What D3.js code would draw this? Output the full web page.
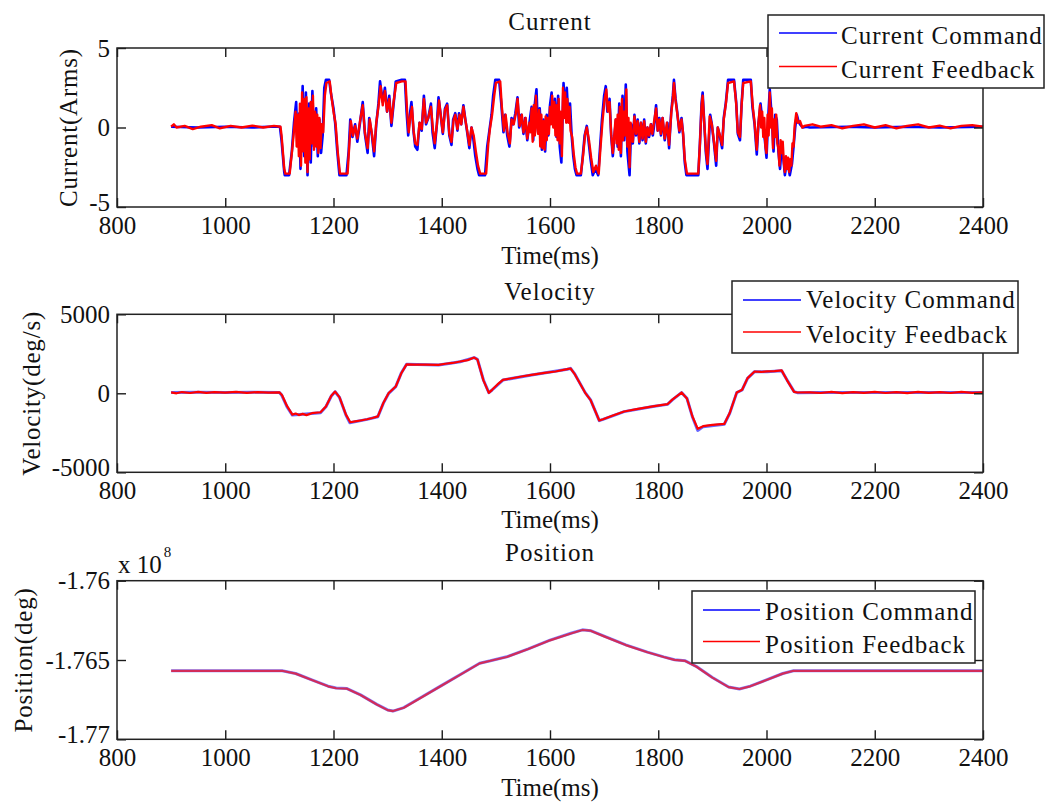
<!DOCTYPE html>
<html>
<head>
<meta charset="utf-8">
<script src="https://cdn.jsdelivr.net/npm/d3@7"></script>
<style>
  body { margin: 0; background: #fff; }
  text { font-family: "Liberation Serif", "Times New Roman", serif; fill: #111; }
</style>
</head>
<body>
<div id="chart"></div>
<script>
// ---- data (time in ms) ----
var timeTicks = [800, 1000, 1200, 1400, 1600, 1800, 2000, 2200, 2400];
var currentTicks = [-5, 0, 5];
var velocityTicks = [-5000, 0, 5000];
var positionTicks = [-1.77, -1.765, -1.76];   // x 10^8

var currentCommand = [
  [900,0.05],[950,0.0],[1000,0.05],[1050,0.0],[1083,0.05],[1101,0.05],[1104,-0.8],[1109,-2.8],[1110,-3.0],[1118,-3.0],
  [1123,-1.5],[1127,0.3],[1131,1.6],[1133,-0.5],[1137,0.9],[1139,-2.6],[1143,2.6],[1146,-1.8],[1149,2.2],[1152,-3.0],
  [1155,1.5],[1158,-2.2],[1161,2.3],[1164,-1.2],[1168,1.2],[1171,-1.8],[1174,0.5],[1177,-1.6],[1180,-0.5],[1183,2.5],
  [1186,3.0],[1192,3.0],[1195,2.2],[1200,1.2],[1203,0.3],[1207,-1.5],[1211,-3.0],[1224,-3.0],[1228,-1.5],[1231,0.5],
  [1235,-0.6],[1240,0.2],[1244,-0.9],[1249,0.3],[1254,1.6],[1258,-0.4],[1263,-1.6],[1266,0.6],[1271,-0.5],[1275,-1.8],
  [1279,0.2],[1283,1.5],[1286,2.9],[1291,1.6],[1295,2.5],[1299,1.0],[1303,2.0],[1307,0.1],[1312,1.8],[1315,2.9],
  [1326,3.0],[1332,3.0],[1335,1.0],[1338,-0.5],[1341,0.8],[1344,1.6],[1348,-0.3],[1351,-1.2],[1355,-1.4],[1359,0.3],
  [1363,-0.2],[1367,2.0],[1371,0.2],[1375,0.6],[1380,1.5],[1383,-0.3],[1387,-1.3],[1391,0.2],[1394,1.9],[1398,0.8],
  [1402,-0.4],[1406,1.2],[1410,1.5],[1414,-0.5],[1418,-1.1],[1421,0.5],[1425,0.9],[1429,-0.2],[1432,0.9],[1436,0.2],
  [1440,1.4],[1444,0.4],[1447,-0.3],[1451,-1.3],[1455,0.0],[1458,-0.6],[1462,-1.8],[1466,-2.6],[1469,-3.0],[1480,-3.0],
  [1484,-1.2],[1488,-0.2],[1492,0.8],[1495,2.0],[1499,3.0],[1506,3.0],[1510,1.5],[1514,-0.3],[1517,0.8],[1521,-0.5],
  [1525,-1.2],[1529,0.6],[1532,0.2],[1536,0.9],[1540,1.9],[1543,0.0],[1547,0.8],[1551,-0.4],[1554,0.6],[1558,-0.8],
  [1562,0.3],[1566,1.3],[1569,-0.8],[1572,1.5],[1575,2.4],[1578,-0.3],[1581,1.2],[1585,-1.4],[1588,0.5],[1591,-1.5],
  [1594,0.8],[1597,-0.5],[1600,1.4],[1603,2.2],[1606,0.2],[1609,1.8],[1612,-0.6],[1615,2.0],[1618,-1.2],[1621,-2.2],
  [1625,2.8],[1628,1.0],[1631,2.5],[1634,0.5],[1637,1.5],[1640,-0.5],[1643,-1.8],[1646,-2.6],[1649,-3.0],[1657,-3.0],
  [1660,-2.0],[1664,-0.5],[1668,0.1],[1671,-0.8],[1675,-2.0],[1679,-3.0],[1684,-2.6],[1689,-3.0],[1692,-1.5],[1696,0.5],
  [1700,2.0],[1703,2.6],[1706,1.0],[1710,1.8],[1713,-0.5],[1716,-1.8],[1719,-0.5],[1722,0.5],[1725,-1.2],[1728,1.5],
  [1731,-1.8],[1734,2.0],[1737,-0.8],[1740,2.7],[1743,-1.5],[1747,-3.0],[1750,0.2],[1753,-1.0],[1756,0.8],[1759,-0.5],
  [1762,0.5],[1765,-1.0],[1768,0.3],[1771,-0.8],[1774,0.5],[1777,-1.0],[1780,0.0],[1783,-0.6],[1787,0.2],[1790,-0.5],
  [1793,0.3],[1796,1.4],[1799,-0.2],[1802,0.6],[1805,-0.5],[1808,0.6],[1812,-0.8],[1817,0.3],[1820,-1.3],[1824,1.0],
  [1827,2.0],[1829,3.0],[1832,1.8],[1835,1.0],[1839,-0.3],[1843,0.6],[1846,-0.5],[1849,-2.2],[1852,-3.0],[1874,-3.0],
  [1877,-1.0],[1880,1.5],[1882,2.2],[1885,0.3],[1888,-1.6],[1891,-2.6],[1896,0.8],[1899,0.2],[1903,-1.0],[1907,-2.4],
  [1910,0.0],[1914,-0.6],[1918,-1.3],[1921,0.6],[1925,1.6],[1929,3.0],[1940,3.0],[1944,1.6],[1947,-0.4],[1951,-0.8],
  [1954,1.5],[1957,3.0],[1971,3.0],[1974,1.3],[1978,0.2],[1982,-1.7],[1985,0.2],[1989,1.5],[1993,0.2],[1997,-0.8],
  [2000,-1.9],[2003,0.5],[2006,2.4],[2010,0.5],[2013,-1.5],[2016,0.8],[2019,0.5],[2022,-1.5],[2025,-2.6],[2028,-1.2],
  [2031,-1.9],[2034,-3.0],[2037,-2.2],[2040,-2.4],[2043,-3.0],[2047,-2.3],[2050,-1.2],[2053,0.0],[2056,0.8],[2059,0.4],
  [2062,0.2],[2067,0.0],[2074,0.05],[2080,0.0],[2150,0.05],[2200,0.0],[2260,0.05],[2320,0.0],[2400,0.05]
];

var currentFeedback = [
  [900,0.05],[905,0.2],[910,0.0],[925,0.1],[940,-0.1],[955,0.05],[975,0.15],[990,-0.05],[1010,0.1],[1030,0.0],
  [1050,0.12],[1070,0.0],[1090,0.1],[1102,0.05],[1104,-0.5],[1109,-2.6],[1111,-2.9],[1119,-2.9],[1124,-1.3],[1128,0.2],
  [1130,1.0],[1132,-1.2],[1134,0.8],[1136,-1.8],[1138,1.5],[1140,-2.4],[1142,2.2],[1144,-1.5],[1146,1.8],[1148,-2.2],
  [1150,1.9],[1152,-2.8],[1154,1.2],[1156,-2.0],[1158,1.6],[1160,-1.0],[1162,2.0],[1164,-1.4],[1166,1.0],[1168,-1.2],
  [1170,0.8],[1172,-1.6],[1174,0.6],[1176,-1.3],[1178,0.2],[1181,-0.3],[1184,2.0],[1187,2.8],[1193,2.9],[1196,2.0],
  [1200,1.0],[1204,0.2],[1208,-1.6],[1212,-2.9],[1226,-2.9],[1229,-1.2],[1232,0.4],[1236,-0.5],[1240,0.1],[1244,-0.7],
  [1249,0.4],[1254,1.4],[1258,-0.3],[1263,-1.3],[1267,0.5],[1271,-0.4],[1275,-1.5],[1279,0.3],[1283,1.3],[1287,2.6],
  [1291,1.4],[1295,2.3],[1299,1.0],[1303,1.8],[1307,0.3],[1311,1.6],[1316,2.8],[1326,2.9],[1333,2.9],[1336,1.0],
  [1339,-0.3],[1342,0.7],[1345,1.3],[1348,-0.2],[1351,-1.0],[1355,-1.1],[1359,0.3],[1363,-0.1],[1367,1.8],[1371,0.3],
  [1375,0.6],[1380,1.3],[1384,-0.2],[1387,-1.0],[1391,0.2],[1395,1.7],[1398,0.8],[1402,-0.3],[1406,1.1],[1410,1.4],
  [1414,-0.4],[1418,-0.9],[1422,0.5],[1425,0.8],[1429,-0.1],[1433,0.8],[1436,0.2],[1440,1.3],[1444,0.4],[1447,-0.2],
  [1451,-1.1],[1455,0.0],[1459,-0.5],[1463,-1.5],[1467,-2.4],[1471,-2.9],[1482,-2.9],[1486,-1.0],[1489,-0.1],[1493,0.8],
  [1497,2.0],[1500,2.8],[1508,2.9],[1511,1.3],[1515,-0.2],[1518,0.8],[1522,-0.4],[1526,-1.0],[1529,0.5],[1533,0.2],
  [1537,0.9],[1540,1.8],[1544,0.1],[1548,0.8],[1551,-0.3],[1555,0.6],[1558,-0.7],[1562,0.3],[1564,-0.3],[1566,1.2],
  [1568,-0.9],[1570,1.4],[1572,-0.5],[1574,2.0],[1576,0.2],[1578,-0.4],[1580,1.1],[1582,-1.2],[1584,0.8],[1586,-1.3],
  [1588,0.4],[1590,-1.4],[1592,0.7],[1594,-0.8],[1596,0.6],[1598,-0.4],[1600,1.3],[1602,0.2],[1604,2.0],[1606,0.0],
  [1608,1.6],[1610,-0.5],[1612,1.4],[1614,-0.8],[1616,1.8],[1618,-1.0],[1620,1.0],[1622,-1.8],[1624,2.5],[1626,0.6],
  [1628,2.2],[1630,0.3],[1632,1.8],[1634,0.3],[1636,1.3],[1638,-0.2],[1641,-0.6],[1644,-1.7],[1647,-2.5],[1650,-2.9],
  [1657,-2.9],[1661,-1.8],[1665,-0.4],[1668,0.0],[1672,-0.8],[1676,-1.9],[1680,-2.8],[1685,-2.4],[1690,-2.9],[1693,-1.4],
  [1697,0.4],[1701,1.8],[1704,2.4],[1707,1.0],[1710,1.6],[1713,-0.4],[1716,-1.6],[1719,-0.4],[1721,0.5],[1723,-1.0],
  [1725,0.8],[1727,-1.4],[1729,1.3],[1731,-1.6],[1733,1.8],[1735,-0.8],[1737,1.0],[1739,-0.5],[1741,2.4],[1743,-1.2],
  [1745,0.6],[1747,-2.5],[1749,0.3],[1751,-0.8],[1753,-0.9],[1756,0.7],[1759,-0.4],[1762,0.4],[1765,-0.9],[1768,0.3],
  [1771,-0.7],[1774,0.4],[1777,-0.9],[1780,0.0],[1783,-0.5],[1786,0.2],[1789,-0.4],[1792,0.3],[1796,1.2],[1799,-0.2],
  [1802,0.5],[1805,-0.4],[1808,0.6],[1812,-0.7],[1816,0.3],[1820,-1.1],[1824,0.9],[1827,1.8],[1829,2.8],[1832,1.7],
  [1835,0.9],[1839,-0.2],[1843,0.5],[1846,-0.4],[1849,-2.0],[1853,-2.9],[1874,-2.9],[1877,-1.0],[1880,1.3],[1882,2.0],
  [1885,0.3],[1888,-1.4],[1891,-2.3],[1895,0.7],[1899,0.2],[1903,-0.9],[1907,-2.1],[1910,0.0],[1914,-0.5],[1918,-1.1],
  [1921,0.5],[1925,1.5],[1929,2.8],[1940,2.9],[1944,1.5],[1947,-0.3],[1951,-0.6],[1954,1.4],[1957,2.8],[1971,2.9],
  [1975,1.2],[1978,0.3],[1982,-1.4],[1985,0.2],[1988,1.4],[1990,0.0],[1992,1.0],[1994,-0.6],[1996,0.6],[1998,-1.2],
  [2000,-1.6],[2002,0.8],[2004,-0.5],[2006,2.2],[2008,0.0],[2010,1.2],[2012,-1.3],[2014,0.5],[2016,-0.6],[2018,0.8],
  [2020,-1.0],[2022,-1.3],[2024,-2.4],[2026,-0.8],[2028,-1.6],[2030,-0.9],[2032,-2.2],[2034,-2.8],[2036,-1.8],[2038,-2.6],
  [2040,-1.9],[2042,-2.8],[2044,-2.0],[2046,-2.4],[2048,-1.0],[2050,-1.2],[2052,0.1],[2055,0.9],[2058,0.3],[2062,0.4],
  [2066,0.0],[2070,0.1],[2085,0.2],[2100,0.05],[2120,0.15],[2140,-0.05],[2160,0.1],[2180,0.2],[2200,0.0],[2220,0.15],
  [2240,-0.05],[2260,0.1],[2280,0.2],[2300,0.0],[2320,0.12],[2340,-0.05],[2360,0.1],[2380,0.15],[2400,0.05]
];

var velocityCommand = [
  [900,50],[950,60],[1000,50],[1050,60],[1100,50],[1104,-100],[1114,-850],[1124,-1380],[1143,-1330],[1176,-1225],
  [1186,-850],[1196,-170],[1203,100],[1211,-255],[1223,-1380],[1230,-1860],[1262,-1650],[1282,-1480],[1292,-640],[1302,0],
  [1315,420],[1325,1265],[1335,1836],[1394,1795],[1407,1860],[1434,2000],[1460,2255],[1466,2150],[1477,840],[1487,42],
  [1493,210],[1513,840],[1566,1160],[1632,1520],[1638,1580],[1645,1265],[1665,42],[1675,-420],[1691,-1730],[1698,-1650],
  [1737,-1160],[1790,-840],[1817,-700],[1826,-420],[1843,42],[1853,-315],[1863,-1480],[1873,-2350],[1883,-2110],[1922,-1960],
  [1932,-1270],[1945,42],[1955,210],[1965,950],[1978,1370],[2001,1370],[2028,1430],[2038,840],[2051,105],[2057,42],
  [2100,50],[2200,50],[2300,50],[2400,50]
];

var velocityFeedback = [
  [900,60],[910,0],[920,80],[935,20],[950,90],[965,30],[980,80],[1000,40],[1020,90],[1040,30],
  [1060,80],[1080,40],[1100,60],[1105,-120],[1114,-800],[1124,-1350],[1130,-1280],[1136,-1380],[1143,-1300],[1150,-1380],
  [1160,-1260],[1176,-1200],[1186,-830],[1196,-150],[1203,110],[1211,-240],[1223,-1350],[1231,-1830],[1240,-1780],[1250,-1720],
  [1262,-1640],[1272,-1560],[1282,-1460],[1292,-620],[1302,20],[1315,430],[1325,1250],[1335,1830],[1350,1810],[1370,1820],
  [1394,1800],[1407,1870],[1420,1920],[1434,2010],[1448,2100],[1460,2260],[1466,2130],[1477,820],[1487,30],[1493,220],
  [1503,560],[1513,850],[1530,950],[1550,1080],[1566,1170],[1590,1290],[1610,1380],[1632,1530],[1638,1570],[1645,1250],
  [1665,30],[1675,-430],[1691,-1720],[1698,-1640],[1715,-1420],[1737,-1150],[1760,-1000],[1790,-830],[1817,-690],[1826,-400],
  [1843,50],[1853,-330],[1863,-1450],[1873,-2250],[1883,-2080],[1900,-2000],[1922,-1940],[1932,-1250],[1945,50],[1955,230],
  [1965,960],[1978,1380],[1990,1350],[2001,1390],[2015,1400],[2028,1450],[2038,820],[2051,90],[2057,50],[2080,60],
  [2100,20],[2120,90],[2140,10],[2160,80],[2180,30],[2200,90],[2220,20],[2240,80],[2260,10],[2280,90],
  [2300,30],[2320,80],[2340,20],[2360,90],[2380,30],[2400,60]
];

var positionCommand = [
  [900,-1.76568],[1105,-1.76568],[1130,-1.76585],[1160,-1.76625],[1190,-1.76665],[1205,-1.76677],[1225,-1.76680],
  [1250,-1.76720],[1280,-1.76780],[1300,-1.76815],[1310,-1.76822],[1330,-1.76800],[1360,-1.76740],[1400,-1.76660],
  [1440,-1.76580],[1470,-1.76520],[1490,-1.76505],[1520,-1.76480],[1560,-1.76430],[1600,-1.76375],[1640,-1.76330],
  [1660,-1.76310],[1675,-1.76315],[1700,-1.76350],[1740,-1.76405],[1780,-1.76450],[1810,-1.76480],[1830,-1.76498],
  [1850,-1.76505],[1870,-1.76540],[1900,-1.76610],[1930,-1.76670],[1950,-1.76683],[1970,-1.76665],[2000,-1.76625],
  [2030,-1.76585],[2050,-1.76568],[2400,-1.76568]
];

var positionFeedback = [
  [900,-1.76568],[1105,-1.76568],[1130,-1.76586],[1160,-1.76626],[1190,-1.76666],[1205,-1.76678],[1225,-1.76681],
  [1250,-1.76721],[1280,-1.76781],[1300,-1.76816],[1310,-1.76822],[1330,-1.76801],[1360,-1.76741],[1400,-1.76661],
  [1440,-1.76581],[1470,-1.76521],[1490,-1.76505],[1520,-1.76481],[1560,-1.76431],[1600,-1.76376],[1640,-1.76331],
  [1660,-1.76311],[1675,-1.76315],[1700,-1.76351],[1740,-1.76406],[1780,-1.76451],[1810,-1.76481],[1830,-1.76499],
  [1850,-1.76506],[1870,-1.76541],[1900,-1.76611],[1930,-1.76671],[1950,-1.76683],[1970,-1.76666],[2000,-1.76626],
  [2030,-1.76586],[2050,-1.76568],[2400,-1.76568]
];

// ---- layout ----
var svgWidth = 1049;
var svgHeight = 806;
var plotLeft = 117;
var plotWidth = 866;

var svg = d3.select("#chart")
  .append("svg")
  .attr("width", svgWidth)
  .attr("height", svgHeight);

var xScale = d3.scaleLinear()
  .domain([800, 2400])
  .range([0, plotWidth]);

var panels = [
  {
    title: "Current", titleY: 30, top: 48, height: 159, domain: [-5, 5], ticks: currentTicks,
    ylabel: "Current(Arms)", ylabelX: 77, xlabelY: 264,
    cmd: currentCommand, fb: currentFeedback, cmdStyle: [2.6, 1], fbStyle: [2.4, 1],
    legend: { x: 768, y: 15, w: 276, h: 73, lineX: 779, lineW: 58, textX: 841, rows: [33, 66.5], base: [44, 78] },
    names: ["Current Command", "Current Feedback"]
  },
  {
    title: "Velocity", titleY: 300, top: 314.3, height: 158, domain: [-5000, 5000], ticks: velocityTicks,
    ylabel: "Velocity(deg/s)", ylabelX: 40, xlabelY: 528,
    cmd: velocityCommand, fb: velocityFeedback, cmdStyle: [3, 0.6], fbStyle: [2.2, 1],
    legend: { x: 732, y: 281, w: 286, h: 72, lineX: 743, lineW: 58, textX: 806, rows: [300, 332], base: [308, 343] },
    names: ["Velocity Command", "Velocity Feedback"]
  },
  {
    title: "Position", titleY: 561, top: 580.7, height: 158.6, domain: [-1.77, -1.76], ticks: positionTicks,
    ylabel: "Position(deg)", ylabelX: 32, xlabelY: 796,
    cmd: positionCommand, fb: positionFeedback, cmdStyle: [3, 0.5], fbStyle: [2.2, 0.65],
    legend: { x: 692, y: 591, w: 283, h: 72, lineX: 703, lineW: 57, textX: 765, rows: [610, 641.5], base: [620, 653] },
    names: ["Position Command", "Position Feedback"]
  }
];

function styleAxis(sel) {
  sel.attr("font-size", 25).attr("font-family", null).style("color", "#1a1a1a");
  sel.select(".domain").remove();
  sel.selectAll(".tick line").attr("stroke-width", 1.4);
}

panels.forEach(function(p) {
  var g = svg.append("g")
    .attr("transform", `translate(${plotLeft}, ${p.top})`);

  var yScale = d3.scaleLinear()
    .domain(p.domain)
    .range([p.height, 0]);

  var line = d3.line()
    .x(d => xScale(d[0]))
    .y(d => yScale(d[1]));

  g.append("path")
    .datum(p.cmd)
    .attr("fill", "none")
    .attr("stroke", "#0000ff")
    .attr("stroke-width", p.cmdStyle[0])
    .attr("opacity", p.cmdStyle[1])
    .attr("stroke-linejoin", "round")
    .attr("d", line);

  g.append("path")
    .datum(p.fb)
    .attr("fill", "none")
    .attr("stroke", "#ff0000")
    .attr("stroke-width", p.fbStyle[0])
    .attr("opacity", p.fbStyle[1])
    .attr("stroke-linejoin", "round")
    .attr("d", line);

  var fmt = d => String(d);

  // bottom axis with labels, top axis ticks only (inward ticks, MATLAB style)
  g.append("g")
    .attr("transform", `translate(0, ${p.height})`)
    .call(d3.axisBottom(xScale).tickValues(timeTicks).tickSizeInner(-9).tickSizeOuter(0).tickPadding(9).tickFormat(fmt))
    .call(styleAxis);

  g.append("g")
    .call(d3.axisTop(xScale).tickValues(timeTicks).tickSizeInner(-9).tickSizeOuter(0).tickFormat(""))
    .call(styleAxis);

  var leftAxis = g.append("g")
    .call(d3.axisLeft(yScale).tickValues(p.ticks).tickSizeInner(-9).tickSizeOuter(0).tickPadding(7).tickFormat(fmt))
    .call(styleAxis);
  // lowest label sits a little higher so it clears the time labels
  leftAxis.selectAll(".tick text").filter(d => d === p.ticks[0]).attr("dy", "0.12em");

  g.append("g")
    .attr("transform", `translate(${plotWidth}, 0)`)
    .call(d3.axisRight(yScale).tickValues(p.ticks).tickSizeInner(-9).tickSizeOuter(0).tickFormat(""))
    .call(styleAxis);

  g.append("rect")
    .attr("width", plotWidth)
    .attr("height", p.height)
    .attr("fill", "none")
    .attr("stroke", "#222")
    .attr("stroke-width", 1.5);

  // titles and axis labels
  svg.append("text")
    .attr("x", plotLeft + plotWidth / 2)
    .attr("y", p.titleY)
    .attr("text-anchor", "middle")
    .attr("font-size", 25)
    .attr("letter-spacing", 1)
    .text(p.title);

  svg.append("text")
    .attr("x", plotLeft + plotWidth / 2)
    .attr("y", p.xlabelY)
    .attr("text-anchor", "middle")
    .attr("font-size", 25)
    .text("Time(ms)");

  svg.append("text")
    .attr("transform", `translate(${p.ylabelX}, ${p.top + p.height / 2}) rotate(-90)`)
    .attr("text-anchor", "middle")
    .attr("font-size", 25)
    .attr("letter-spacing", 0.8)
    .text(p.ylabel);

  // legend
  var lg = p.legend;
  svg.append("rect")
    .attr("x", lg.x).attr("y", lg.y)
    .attr("width", lg.w).attr("height", lg.h)
    .attr("fill", "#fff")
    .attr("stroke", "#222")
    .attr("stroke-width", 1.5);

  ["#0000ff", "#ff0000"].forEach(function(c, i) {
    svg.append("line")
      .attr("x1", lg.lineX).attr("x2", lg.lineX + lg.lineW)
      .attr("y1", lg.rows[i]).attr("y2", lg.rows[i])
      .attr("stroke", c)
      .attr("stroke-width", 1.5);
    svg.append("text")
      .attr("x", lg.textX)
      .attr("y", lg.base[i])
      .attr("font-size", 25)
      .attr("letter-spacing", 1)
      .text(p.names[i]);
  });
});

// exponent marker for the position axis
var expText = svg.append("text")
  .attr("x", 118)
  .attr("y", 573)
  .attr("font-size", 25)
  .text("x 10");
expText.append("tspan")
  .attr("dy", -16)
  .attr("dx", 2)
  .attr("font-size", 15)
  .text("8");
</script>
</body>
</html>
